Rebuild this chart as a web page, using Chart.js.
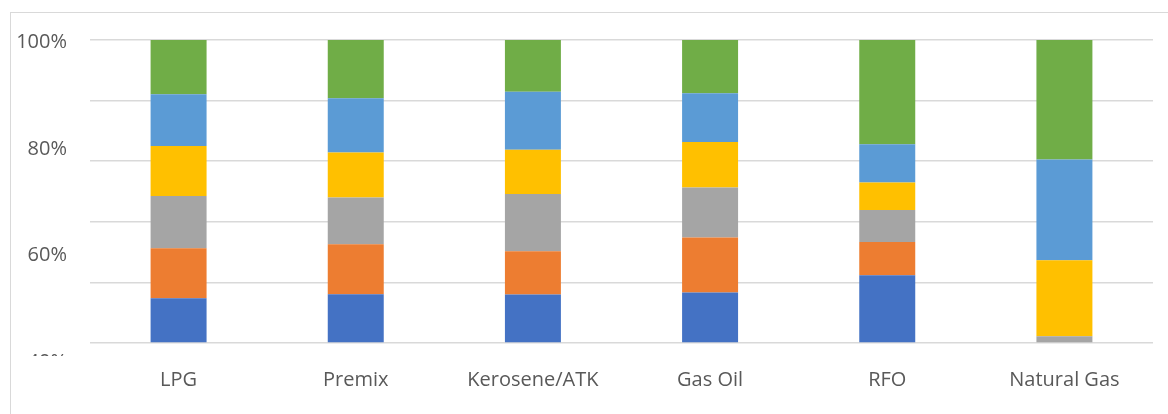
<!DOCTYPE html>
<html>
<head>
<meta charset="utf-8">
<script src="https://cdn.jsdelivr.net/npm/chart.js@4/dist/chart.umd.min.js"></script>
<style>
  html, body { margin:0; padding:0; background:#fff; }
  #wrap { position:relative; width:1168px; height:414px; }
  #frame {
    position:absolute; left:10px; top:12px; right:0; bottom:0;
    border-top:1px solid #d9d9d9; border-left:1px solid #d9d9d9;
    pointer-events:none;
  }
</style>
</head>
<body>
<div id="wrap">
  <canvas id="chart"></canvas>
  <div id="frame"></div>
</div>
<script>
// ===============================
// DATA (share of each product, %)
// ===============================
const categories = ["LPG", "Premix", "Kerosene/ATK", "Gas Oil", "RFO", "Natural Gas"];

const series1 = [14.8, 16.1, 16.0, 16.7, 22.4, 0];     // blue
const series2 = [16.5, 16.5, 14.3, 18.1, 10.9, 0];     // orange
const series3 = [17.2, 15.4, 18.9, 16.5, 10.6, 2.2];   // gray
const series4 = [16.5, 14.9, 14.6, 15.0, 9.1, 25.1];   // yellow
const series5 = [17.1, 17.9, 19.1, 16.1, 12.6, 33.3];  // light blue
const series6 = [17.9, 19.2, 17.1, 17.6, 34.4, 39.4];  // green

const yTickLabels = [100, 80, 60, 40];

const TEXT = '#595959';
const FONT = '"Open Sans", "Noto Sans", sans-serif';

// ===============================
// clip the label axis (bottom label is cut off)
// ===============================
const clipLabels = {
  id:'clipLabels',
  afterLayout(chart){
    const s = chart.scales.yl;
    if(!s || s._clipped) return;
    const orig = s.drawLabels.bind(s);
    s.drawLabels = (area) => {
      const ctx = chart.ctx;
      ctx.save();
      ctx.beginPath();
      ctx.rect(0, 0, chart.width, 356);
      ctx.clip();
      orig(area);
      ctx.restore();
    };
    s._clipped = true;
  }
};

function ds(label, data, color){
  return {
    label, data,
    backgroundColor: color,
    borderWidth: 0,
    barPercentage: 0.316,
    categoryPercentage: 1
  };
}

new Chart(document.getElementById("chart"), {
  type:'bar',
  data:{
    labels: categories,
    datasets:[
      ds("Series 1", series1, '#4472C4'),
      ds("Series 2", series2, '#ED7D31'),
      ds("Series 3", series3, '#A5A5A5'),
      ds("Series 4", series4, '#FFC000'),
      ds("Series 5", series5, '#5B9BD5'),
      ds("Series 6", series6, '#70AD47')
    ]
  },
  plugins:[clipLabels],
  options:{
    responsive:true,
    maintainAspectRatio:false,
    animation:false,
    layout:{ padding:{ top:40, right:15, left:0, bottom:0 } },
    plugins:{
      legend:{ display:false },
      tooltip:{ enabled:false }
    },
    scales:{
      x:{
        stacked:true,
        grid:{ display:false },
        border:{ display:false },
        ticks:{
          color:TEXT,
          font:{ family:FONT, size:20 },
          padding:17,
          maxRotation:0,
          autoSkip:false
        },
        afterFit: s => { s.height = 71; }
      },
      y:{
        stacked:true,
        min:0,
        max:100,
        position:'left',
        ticks:{ display:false, stepSize:20 },
        grid:{ color:'#d9d9d9', lineWidth:1.5, drawTicks:false },
        border:{ display:false },
        afterFit: s => { s.width = 0; }
      },
      yl:{
        position:'left',
        min:43.6,
        max:100.4,
        grid:{ display:false, drawTicks:false },
        border:{ display:false },
        ticks:{
          color:TEXT,
          font:{ family:FONT, size:20 },
          padding:23,
          autoSkip:false,
          callback: v => v + '%'
        },
        afterBuildTicks: s => { s.ticks = yTickLabels.map(v => ({ value:v })); },
        afterFit: s => { s.width = 90; }
      }
    }
  }
});
</script>
</body>
</html>
